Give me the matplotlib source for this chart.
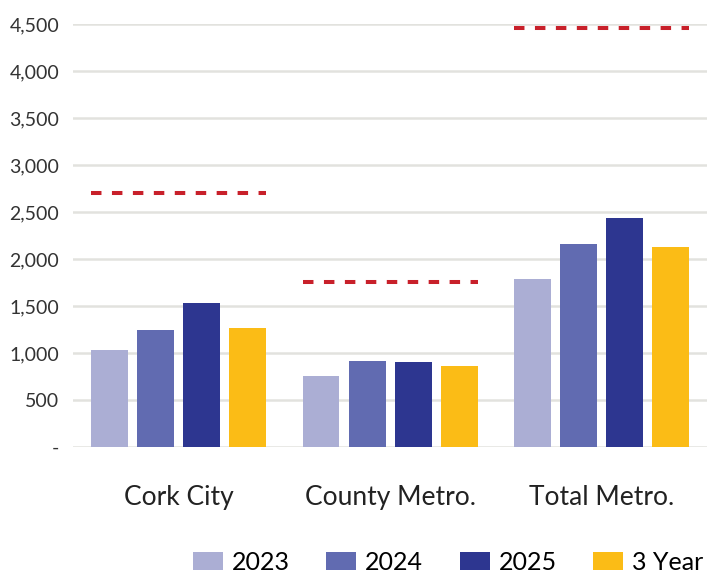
import numpy as np
import matplotlib.pyplot as plt
from matplotlib.ticker import FuncFormatter

plt.rcParams['font.family'] = ['Lato', 'DejaVu Sans']

categories = ["Cork City", "County Metro.", "Total Metro."]
series_names = ["2023", "2024", "2025", "3 Year Average"]
values_2023 = [1030, 753, 1786]
values_2024 = [1243, 913, 2155]
values_2025 = [1534, 905, 2439]
values_3yr = [1268, 859, 2127]
targets = [2705, 1751, 4456]
colors = ["#ABAED4", "#616BB1", "#2D3690", "#FBBC16"]
target_color = "#C8202A"

fig = plt.figure(figsize=(7.07, 5.75), dpi=100)
ax = fig.add_axes([0.1033, 0.2226, 0.8967, 0.7357])

x = np.arange(len(categories))
pitch = 0.2177
width = 0.175
all_series = [values_2023, values_2024, values_2025, values_3yr]
for i, (vals, name, col) in enumerate(zip(all_series, series_names, colors)):
    ax.bar(x + (i - 1.5) * pitch, vals, width, color=col, label=name, zorder=3)

# target lines span each group of bars
left = x - 1.5 * pitch - width / 2
right = x + 1.5 * pitch + width / 2
for xl, xr, t in zip(left, right, targets):
    ax.plot([xl, xr], [t, t], color=target_color, lw=2.9, linestyle=(0, (2.6, 2.6)),
            dash_capstyle='butt', zorder=4)

ax.set_xlim(-0.5, 2.5)
ax.set_ylim(0, 4500)
ax.set_yticks(np.arange(0, 4501, 500))
ax.yaxis.set_major_formatter(FuncFormatter(lambda v, p: "-" if v == 0 else f"{int(v):,}"))
ax.grid(axis='y', color="#E2E2DE", lw=1.8, zorder=0)
ax.set_axisbelow(True)
for s in ax.spines.values():
    s.set_visible(False)
ax.set_xticks(x)
ax.set_xticklabels(categories)
ax.tick_params(axis='x', length=0, pad=27, labelsize=19, labelcolor="#222222")
ax.tick_params(axis='y', length=0, pad=10, labelsize=14, labelcolor="#333333")

handles, labels = ax.get_legend_handles_labels()
fig.legend(handles, labels, loc='center left', bbox_to_anchor=(0.273, 0.0226), ncol=4,
           frameon=False, fontsize=18, handlelength=1.2, handleheight=0.72,
           handletextpad=0.36, columnspacing=1.45, borderpad=0, borderaxespad=0)

fig.savefig("out.png", dpi=100)
